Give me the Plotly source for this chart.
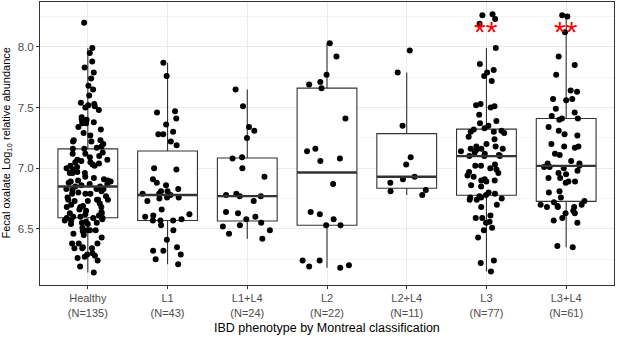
import numpy as np
import plotly.graph_objects as go

categories = ["Healthy", "L1", "L1+L4", "L2", "L2+L4", "L3", "L3+L4"]
counts = [135, 43, 24, 22, 11, 77, 61]
tick_labels = [f"{c}<br>(N={n})" for c, n in zip(categories, counts)]

healthy = [8.20, 7.99, 7.95, 7.88, 7.83, 7.79, 7.74, 7.68, 7.65, 7.60, 7.53, 7.51, 7.52, 7.50,
           7.54, 7.48, 7.42, 7.40, 7.40, 7.38, 7.37, 7.37, 7.34, 7.32, 7.29, 7.27, 7.23, 7.23,
           7.22, 7.22, 7.20, 7.18, 7.17, 7.16, 7.16, 7.12, 7.12, 7.05, 7.09, 7.07, 7.07, 7.05,
           7.10, 7.02, 7.03, 7.04, 6.99, 6.96, 6.96, 6.96, 7.02, 6.89, 6.87, 6.88, 6.89, 6.90,
           6.90, 6.91, 6.93, 6.87, 6.83, 6.83, 6.85, 6.85, 6.82, 6.83, 6.80, 6.76, 6.79, 6.79,
           6.74, 6.79, 6.74, 6.74, 6.73, 6.74, 6.71, 6.69, 6.65, 6.68, 6.68, 6.68, 6.73, 6.66,
           6.63, 6.61, 6.63, 6.64, 6.59, 6.59, 6.57, 6.56, 6.55, 6.54, 6.54, 6.57, 6.55, 6.59,
           6.51, 6.49, 6.48, 6.49, 6.49, 6.46, 6.43, 6.45, 6.38, 6.34, 6.38, 6.34, 6.35, 6.34,
           6.38, 6.29, 6.28, 6.30, 6.26, 6.27, 6.24, 6.19, 6.14, 6.60, 6.60, 6.62, 6.70, 6.77,
           6.81, 6.86, 6.92, 6.97, 7.00, 7.01, 7.06, 7.13, 6.58]
l1 = [7.87, 7.76, 7.47, 7.46, 7.41, 7.36, 7.28, 7.30, 7.28, 7.22, 7.19, 6.99, 7.00, 6.91,
      6.88, 6.81, 6.79, 6.75, 6.81, 6.83, 6.79, 6.76, 6.73, 6.76, 6.58, 6.60, 6.66, 6.61,
      6.57, 6.57, 6.62, 6.57, 6.53, 6.49, 6.41, 6.32, 6.32, 6.35, 6.29, 6.25, 6.21, 6.78, 6.86]
l1_l4 = [7.65, 7.51, 7.34, 7.31, 7.25, 7.08, 7.09, 7.00, 6.93, 6.79, 6.78, 6.77, 6.77, 6.73,
         6.63, 6.58, 6.64, 6.60, 6.55, 6.52, 6.53, 6.49, 6.46, 6.42]
l2 = [8.03, 7.92, 7.77, 7.71, 7.69, 7.66, 7.41, 7.16, 7.08, 7.14, 7.06, 6.87, 6.64, 6.62,
      6.58, 6.53, 6.53, 6.20, 6.24, 6.24, 6.19, 6.18]
l2_l4 = [7.79, 7.97, 7.35, 7.09, 7.03, 6.93, 6.91, 6.88, 6.82, 6.81, 6.78]
l3 = [8.23, 8.27, 8.26, 8.19, 7.99, 7.79, 7.86, 7.81, 7.72, 7.76, 7.52, 7.51, 7.50, 7.53,
      7.44, 7.37, 7.35, 7.39, 7.33, 7.30, 7.29, 7.32, 7.26, 7.30, 7.31, 7.24, 7.16, 7.15,
      7.18, 7.16, 7.18, 7.10, 7.13, 7.16, 7.10, 7.03, 7.02, 6.99, 6.96, 7.02, 7.00, 6.97,
      6.91, 6.90, 6.90, 6.94, 6.93, 6.89, 6.86, 6.85, 6.80, 6.79, 6.76, 6.75, 6.76, 6.77,
      6.78, 6.74, 6.68, 6.74, 6.61, 6.59, 6.56, 6.59, 6.55, 6.51, 6.49, 6.43, 6.22, 6.24,
      6.15, 7.12, 7.11, 7.10, 7.14, 7.20, 6.70]
l3_l4 = [8.26, 8.25, 8.12, 7.92, 7.85, 7.77, 7.64, 7.63, 7.56, 7.57, 7.57, 7.46, 7.49, 7.43,
         7.41, 7.40, 7.41, 7.34, 7.28, 7.27, 7.31, 7.18, 7.17, 7.20, 7.18, 7.11, 7.12, 7.06,
         7.04, 7.04, 7.02, 7.01, 7.01, 7.00, 6.98, 6.96, 6.95, 6.92, 6.92, 6.89, 6.89, 6.88,
         6.81, 6.80, 6.76, 6.73, 6.70, 6.68, 6.68, 6.69, 6.72, 6.70, 6.68, 6.63, 6.65, 6.59,
         6.57, 6.55, 6.63, 6.36, 6.35]
series = [healthy, l1, l1_l4, l2, l2_l4, l3, l3_l4]
significant = ["L3", "L3+L4"]
sig_label = "**"
sig_level = 8.15

line_col = "#333333"
fig = go.Figure()
for i, vals in enumerate(series):
    fig.add_trace(go.Box(
        x=[i] * len(vals), y=vals, name=categories[i],
        boxpoints="all", jitter=0.85 if len(vals) > 100 else 1.0, pointpos=0, width=0.75,
        fillcolor="white", line=dict(color=line_col, width=1.1),
        whiskerwidth=0, marker=dict(color="black", size=6, line=dict(width=0)),
        showlegend=False, hoverinfo="y",
    ))
    med = float(np.median(vals))
    fig.add_shape(type="line", x0=i - 0.375, x1=i + 0.375, y0=med, y1=med,
                  xref="x", yref="y", line=dict(color=line_col, width=2.4), layer="above")

for c in significant:
    fig.add_annotation(x=categories.index(c), y=sig_level, text=sig_label, showarrow=False,
                       font=dict(size=30, color="#FF0000", family="Liberation Sans, Arial"),
                       yanchor="middle", yshift=-3)

fig.add_annotation(x=0.5, y=0, xref="paper", yref="paper", yshift=-43, yanchor="middle",
                   text="IBD phenotype by Montreal classification", showarrow=False,
                   font=dict(size=12.5, color="black"))
fig.add_annotation(x=0, y=0.5, xref="paper", yref="paper", xshift=-34, xanchor="center",
                   textangle=-90, text="Fecal oxalate Log<sub>10</sub> relative abundance",
                   showarrow=False, font=dict(size=11, color="black"))

fig.update_layout(
    width=617, height=347,
    margin=dict(l=40, r=3, t=2, b=62),
    paper_bgcolor="white", plot_bgcolor="white",
    font=dict(family="Liberation Sans, Arial, sans-serif", color="#4D4D4D", size=11),
    boxmode="overlay",
)
fig.update_xaxes(
    range=[-0.6, 6.6], tickvals=list(range(len(categories))), ticktext=tick_labels,
    showgrid=True, gridcolor="#EBEBEB", gridwidth=1, zeroline=False,
    showline=True, mirror=True, linecolor=line_col, linewidth=1,
    ticks="outside", ticklen=3, tickcolor=line_col,
    tickfont=dict(size=11, color="#4D4D4D"),
)
fig.update_yaxes(
    range=[6.038, 8.37], tickvals=[6.5, 7.0, 7.5, 8.0], tickformat=".1f",
    showgrid=True, gridcolor="#EBEBEB", gridwidth=1, zeroline=False,
    minor=dict(tickvals=[6.25, 6.75, 7.25, 7.75, 8.25], showgrid=True,
               gridcolor="#F5F5F5", gridwidth=1, ticks=""),
    showline=True, mirror=True, linecolor=line_col, linewidth=1,
    ticks="outside", ticklen=3, tickcolor=line_col,
    tickfont=dict(size=11.5, color="#4D4D4D"),
)
fig.write_html("out.html", config={"displayModeBar": False},
               post_script="document.body.style.margin='0px';")
